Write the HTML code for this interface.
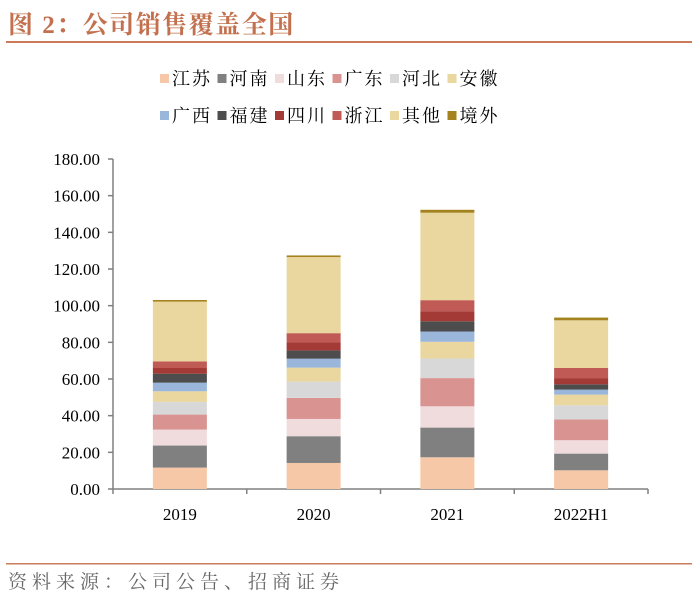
<!DOCTYPE html>
<html><head><meta charset="utf-8"><style>
body{margin:0;background:#fff;width:700px;height:598px;overflow:hidden;font-family:"Liberation Serif","Noto Serif CJK SC",serif}
</style></head><body>
<svg width="700" height="598" xmlns="http://www.w3.org/2000/svg" id="chart">
<text x="8" y="33" font-size="25" font-weight="bold" letter-spacing="1.5" fill="#c2704e" font-family="Liberation Serif,Noto Serif CJK SC,serif">图 2：公司销售覆盖全国</text>
<rect x="6" y="41" width="686" height="2" fill="#c97b5a"/>
<rect x="6" y="563" width="686" height="1.5" fill="#c97b5a"/>
<text x="8" y="588" font-size="19" letter-spacing="5" fill="#666" font-family="Liberation Serif,Noto Serif CJK SC,serif">资料来源：公司公告、招商证券</text>
<g id="axes"></g><g id="bars"></g><g id="legend"></g>
</svg>
<script>
const categories=["2019","2020","2021","2022H1"];
const seriesNames=["江苏","河南","山东","广东","河北","安徽","广西","福建","四川","浙江","其他","境外"];
const seriesColors=["#f6c8a8","#808080","#f0dcdc","#d99492","#d8d8d8","#ead79f","#9ab6da","#4d4d4d","#a33a36","#c05a55","#ead7a0","#a4831e"];
const s_jiangsu=[11.7,14.2,17.3,10.2];
const s_henan=[12.0,14.6,16.2,9.1];
const s_shandong=[8.7,9.4,11.6,7.3];
const s_guangdong=[8.2,11.5,15.4,11.3];
const s_hebei=[6.9,8.9,10.7,7.8];
const s_anhui=[5.8,7.6,9.1,5.8];
const s_guangxi=[4.7,4.9,5.6,2.7];
const s_fujian=[4.9,4.5,5.6,2.9];
const s_sichuan=[3.1,4.5,5.5,3.4];
const s_zhejiang=[3.6,4.9,6.0,5.5];
const s_other=[32.6,41.5,47.7,26.0];
const s_overseas=[0.9,0.9,1.6,1.5];
const yTicks=[0,20,40,60,80,100,120,140,160,180];
const series=[s_jiangsu,s_henan,s_shandong,s_guangdong,s_hebei,s_anhui,s_guangxi,s_fujian,s_sichuan,s_zhejiang,s_other,s_overseas];
const NS="http://www.w3.org/2000/svg";
const x0=113,x1=648,y0=489,yTop=159,yMax=180;
const Y=v=>y0-(v/yMax)*(y0-yTop);
const band=(x1-x0)/categories.length;
const X=i=>x0+band*(i+0.5);
function mk(t,a,p){const e=document.createElementNS(NS,t);for(const k in a)e.setAttribute(k,a[k]);p.appendChild(e);return e;}
const ax=document.getElementById('axes');
let l=mk('line',{x1:x0,y1:yTop,x2:x0,y2:y0,stroke:'#808080','stroke-width':1.5},ax);


l=mk('line',{x1:x0,y1:y0,x2:x1,y2:y0,stroke:'#808080','stroke-width':1.5},ax);


yTicks.forEach(v=>{
 const t=mk('line',{x1:x0-5,y1:Y(v),x2:x0,y2:Y(v),stroke:'#808080','stroke-width':1.5},ax);
 
 
 const tx=mk('text',{x:x0-13,y:Y(v)+6,'text-anchor':'end','font-size':17,fill:'#000'},ax);
 tx.textContent=v.toFixed(2);
 
 
});
for(let i=0;i<=categories.length;i++){
 const t=mk('line',{x1:x0+band*i,y1:y0,x2:x0+band*i,y2:y0+5,stroke:'#808080','stroke-width':1.5},ax);
 
 
}
categories.forEach((c,i)=>{
 const tx=mk('text',{x:X(i),y:520,'text-anchor':'middle','font-size':17,fill:'#000'},ax);
 tx.textContent=c;
 
 
});
const bg=document.getElementById('bars');
const bw=54;
categories.forEach((c,i)=>{
 let acc=0;
 series.forEach((s,k)=>{
  const v=s[i];
  const r=mk('rect',{x:X(i)-bw/2,y:Y(acc+v),width:bw,height:Y(acc)-Y(acc+v),fill:seriesColors[k]},bg);
  
  
  acc+=v;
 });
});
const lg=document.getElementById('legend');
seriesNames.forEach((n,k)=>{
 const row=Math.floor(k/6),col=k%6;
 const lx=160+col*57.5,ly=78+row*37;
 const g=mk('g',{},lg);
 
 
 mk('rect',{x:lx,y:ly-4,width:9,height:9,fill:seriesColors[k]},g);
 const t=mk('text',{x:lx+12,y:ly+7,'font-size':18,'letter-spacing':2,fill:'#000'},g);
 t.textContent=n;
});
</script>
</body></html>
